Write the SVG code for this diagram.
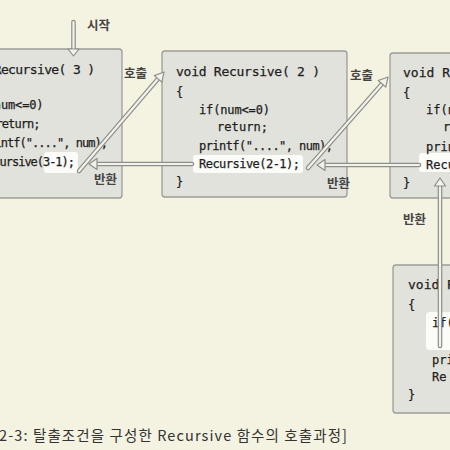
<svg xmlns="http://www.w3.org/2000/svg" width="450" height="450" viewBox="0 0 450 450">
<style>
.bg{fill:#f4f2e1}
.box{fill:#e2e2dc;stroke:#9d9d97;stroke-width:1.3}
.hl{fill:#fbfbf8}
.code{font-family:"DejaVu Sans Mono","Liberation Mono",monospace;font-size:12px;fill:#1e1e1e;stroke:#1e1e1e;stroke-width:0.25}
.hdr{font-size:13px}
.lbl{font-family:"Noto Sans CJK KR","Noto Sans",sans-serif;font-size:12.5px;font-weight:bold;fill:#454545}
.cap{font-family:"Noto Sans CJK KR","Noto Sans",sans-serif;font-size:14.5px;fill:#333}
.so{fill:none;stroke:#8e8e8a;stroke-width:4.6;stroke-linecap:round}
.si{fill:none;stroke:#f3f2ea;stroke-width:2.2;stroke-linecap:round}
.hd{fill:#f3f2ea;stroke:#8e8e8a;stroke-width:1.2;stroke-linejoin:round}
</style>
<rect class="bg" x="0" y="0" width="450" height="450"/>

<g id="node-call3">
<rect class="box" x="-63" y="49" width="185" height="149" rx="3"/>
<rect class="hl" x="44" y="152" width="34" height="21" rx="3"/>
<text class="code hdr" x="-6.3" y="74" textLength="101.5">Recursive( 3 )</text>
<text class="code" x="-27.4" y="109" textLength="71">if(num&lt;=0)</text>
<text class="code" x="-4.5" y="128" textLength="45">return;</text>
<text class="code" x="-18" y="147" textLength="126">printf("....", num);</text>
<text class="code" x="-19" y="166" textLength="94">Recursive(3-1);</text>
</g>

<g id="node-call2">
<rect class="box" x="162" y="51" width="185" height="146" rx="3"/>
<rect class="hl" x="193" y="155" width="110" height="18" rx="3"/>
<text class="code hdr" x="176" y="76" textLength="144">void Recursive( 2 )</text>
<text class="code" x="176" y="96">{</text>
<text class="code" x="199" y="114" textLength="71">if(num&lt;=0)</text>
<text class="code" x="217" y="131" textLength="51">return;</text>
<text class="code" x="199" y="150" textLength="134">printf("....", num);</text>
<text class="code" x="199" y="168" textLength="101">Recursive(2-1);</text>
<text class="code" x="176" y="186">}</text>
</g>

<g id="node-call1">
<rect class="box" x="390" y="53" width="80" height="145" rx="3"/>
<rect class="hl" x="419" y="153" width="40" height="19" rx="3"/>
<text class="code hdr" x="403" y="77">void Re</text>
<text class="code" x="403" y="97">{</text>
<text class="code" x="426" y="114">if(n</text>
<text class="code" x="443" y="131">r</text>
<text class="code" x="426" y="151">prin</text>
<text class="code" x="426" y="169">Recu</text>
<text class="code" x="403" y="187">}</text>
</g>

<g id="node-call0">
<rect class="box" x="393" y="265" width="80" height="148" rx="3"/>
<rect class="hl" x="426" y="312" width="34" height="38" rx="4"/>
<text class="code hdr" x="408" y="289">void R</text>
<text class="code" x="408" y="309">{</text>
<text class="code" x="432" y="327">if(</text>
<text class="code" x="432" y="364">pri</text>
<text class="code" x="432" y="381">Re</text>
<text class="code" x="408" y="399">}</text>
</g>

<g id="connectors">
<path class="so" d="M73.5 22V49"/><path class="si" d="M73.5 22V49"/>
<polygon class="hd" points="68,49 79,49 73.5,56"/>

<path class="so" d="M79 171L158.1 78.8"/><path class="si" d="M79 171L158.1 78.8"/>
<polygon class="hd" points="164,72 161.9,82.1 154.3,75.6"/>

<path class="so" d="M192 164H97"/><path class="si" d="M192 164H97"/>
<polygon class="hd" points="89,164 97,158.5 97,169.5"/>

<path class="so" d="M308 168L382.1 83.8"/><path class="si" d="M308 168L382.1 83.8"/>
<polygon class="hd" points="388,77 385.8,87.1 378.3,80.5"/>

<path class="so" d="M419 165H325"/><path class="si" d="M419 165H325"/>
<polygon class="hd" points="317,165 325,159.5 325,170.5"/>

<path class="so" d="M440 346V186"/><path class="si" d="M440 346V186"/>
<polygon class="hd" points="440,178 434.5,186 445.5,186"/>
</g>

<g id="labels">
<text class="lbl" x="87" y="30">시작</text>
<text class="lbl" x="124" y="78">호출</text>
<text class="lbl" x="94" y="184">반환</text>
<text class="lbl" x="350" y="80">호출</text>
<text class="lbl" x="327" y="188">반환</text>
<text class="lbl" x="403" y="224">반환</text>
</g>

<text class="cap" x="-1" y="441" textLength="348">2-3: 탈출조건을 구성한 Recursive 함수의 호출과정]</text>
</svg>
